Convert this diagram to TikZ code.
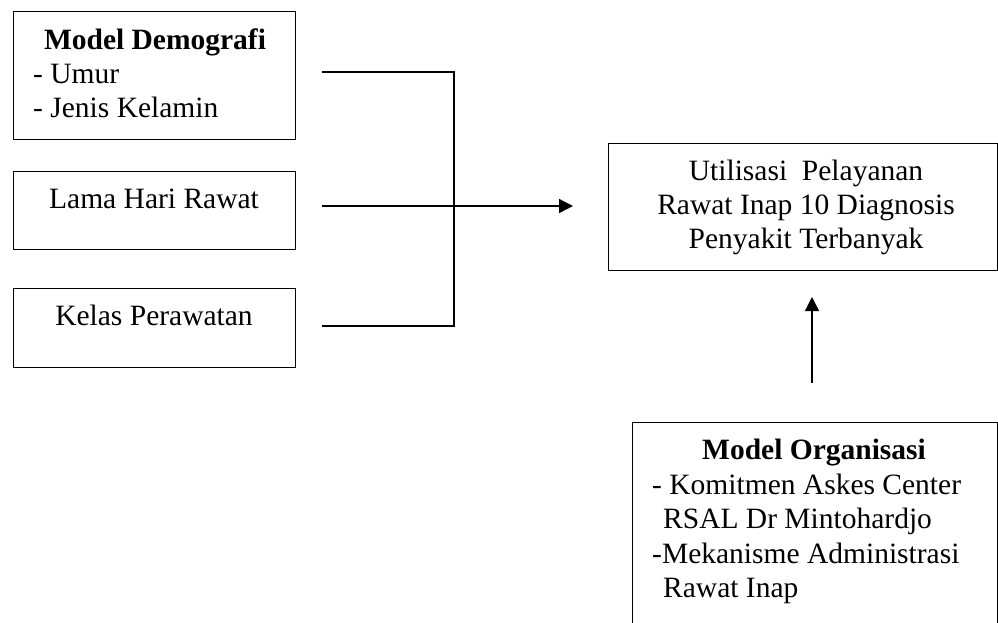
\documentclass[tikz,border=0pt]{standalone}
\usepackage{fontspec}
\setmainfont{Liberation Serif}
\usetikzlibrary{arrows.meta}
\tikzset{
  box/.style={draw=black, line width=1pt, anchor=north west, inner sep=0pt},
  txt/.style={inner sep=0pt, font=\fontsize{29.5}{34}\selectfont},
  conn/.style={draw=black, line width=1.3pt},
  arr/.style={conn, -{Triangle[length=14pt, width=14pt]}}
}
\begin{document}
\begin{tikzpicture}[x=1pt,y=-1pt]
\useasboundingbox (0,0) rectangle (998,622);
\clip (0,0) rectangle (998,622);
\fill[white] (0,0) rectangle (998,622);
% boxes
\node[box, minimum width=282pt, minimum height=128pt] (demo) at (13,10.5) {};
\node[box, minimum width=282pt, minimum height=78pt] (lama) at (13,171) {};
\node[box, minimum width=282pt, minimum height=79pt] (kelas) at (13,288) {};
\node[box, minimum width=388.5pt, minimum height=127pt] (util) at (608,143) {};
\node[box, minimum width=364.5pt, minimum height=240pt] (org) at (632,422) {};
% texts
\node[txt, anchor=base] (t1) at (155,49) {\textbf{Model Demografi}};
\node[txt, anchor=base west] (t2) at (33,83) {- Umur};
\node[txt, anchor=base west] (t3) at (33,117) {- Jenis Kelamin};
\node[txt, anchor=base] (t4) at (154,208) {Lama Hari Rawat};
\node[txt, anchor=base] (t5) at (154,325) {Kelas Perawatan};
\node[txt, anchor=base] (u1) at (806,180) {Utilisasi~ Pelayanan};
\node[txt, anchor=base] (u2) at (806,214) {Rawat Inap 10 Diagnosis};
\node[txt, anchor=base] (u3) at (806,248) {Penyakit Terbanyak};
\node[txt, anchor=base] (o1) at (814,459) {\textbf{Model Organisasi}};
\node[txt, anchor=base west] (o2) at (652,494) {- Komitmen Askes Center};
\node[txt, anchor=base west] (o3) at (663,528) {RSAL Dr Mintohardjo};
\node[txt, anchor=base west] (o4) at (652,563) {-Mekanisme Administrasi};
\node[txt, anchor=base west] (o5) at (663,597) {Rawat Inap};
% connectors
\coordinate (a1) at (322,72);
\coordinate (a2) at (322,206);
\coordinate (a3) at (322,326);
\coordinate (j1) at (454,72);
\coordinate (j2) at (454,206);
\coordinate (j3) at (454,326);
\draw[conn] (a1) -- (j1) -- (j3) -- (a3);
\draw[conn] (a2) -- (j2);
\coordinate (tipu) at (573,206);
\draw[arr] (j2) -- (tipu);
\coordinate (vs) at (812,383);
\coordinate (ve) at (812,297);
\draw[arr] (vs) -- (ve);
\end{tikzpicture}
\end{document}
